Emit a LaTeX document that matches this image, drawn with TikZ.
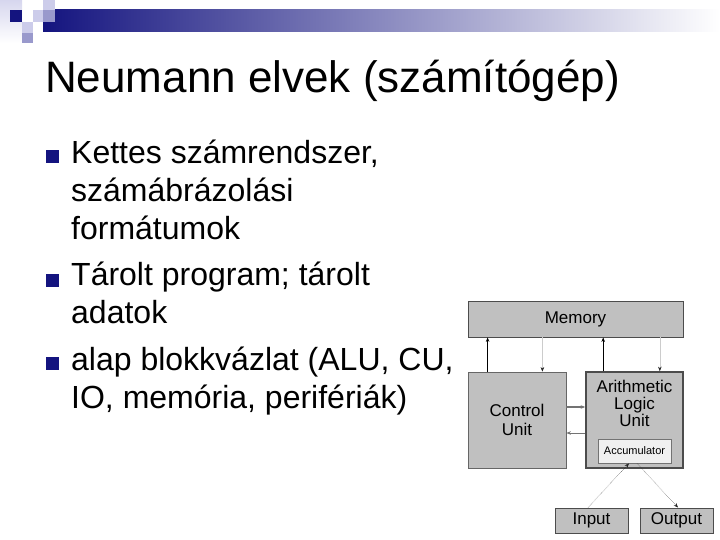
\documentclass[tikz,border=0pt]{standalone}
\usepackage{fontspec}
\setmainfont{Liberation Sans}
\usepackage{xcolor}
\usetikzlibrary{positioning, arrows.meta, calc}

\definecolor{navy}{HTML}{14147F}
\definecolor{lilac}{HTML}{CCCCEA}
\definecolor{midlilac}{HTML}{9999CC}
\definecolor{boxgray}{HTML}{C0C0C0}

\begin{document}
\begin{tikzpicture}[
    x=1pt, y=-1pt,
    >={Stealth[length=4.5pt,width=3.5pt]},
    item/.style={anchor=base west, align=left, inner sep=0pt,
                 font=\fontsize{32}{38}\selectfont},
    bul/.style={fill=navy, minimum size=13pt, inner sep=0pt},
    ubox/.style={draw=black!70, fill=boxgray, line width=0.8pt, inner sep=0pt,
                 align=center, font=\fontsize{17}{19}\selectfont},
    faint/.style={black!20, -{Stealth[length=4.5pt,width=3.5pt,color=black!85]}},
]
  \useasboundingbox (0,0) rectangle (720,540);
  % header ornament
  \shade[top color=lilac!80, bottom color=white] (0,0) rectangle (22,43);
  \shade[left color=navy, middle color=black!30!lilac, right color=white] (43,10) rectangle (720,32);
  \fill[navy] (10,10) rectangle (22,22);
  \fill[lilac] (33,10) rectangle (43,22);
  \fill[lilac] (43,0) rectangle (55,10);
  \fill[midlilac] (43,10) rectangle (55,22);
  \fill[lilac] (22,22) rectangle (33,33);
  \fill[midlilac] (22,33) rectangle (33,43);
  % title
  \node[anchor=base west, inner sep=0pt, font=\fontsize{44}{48}\selectfont] (title) at (45,93)
       {Neumann elvek (számítógép)};
  % bullet list (base = last line)
  \node[bul] (s1) at (52,156.5) {};
  \node[item] (b1) at (71,240) {Kettes számrendszer,\\számábrázolási\\formátumok};
  \node[bul] (s2) at (52,280.5) {};
  \node[item] (b2) at (71,323) {Tárolt program; tárolt\\adatok};
  \node[bul] (s3) at (52,363.5) {};
  \node[item] (b3) at (71,408) {alap blokkvázlat (ALU, CU,\\IO, memória, perifériák)};
  % block diagram
  \node[ubox, minimum width=215pt, minimum height=36pt] (mem) at (575.5,319) {Memory};
  \node[ubox, minimum width=98pt, minimum height=96pt, draw=black!60] (cu) at (517,420)
       {Control\\Unit};
  \node[ubox, minimum width=97pt, minimum height=96pt, draw=black!70, line width=1.6pt] (alu)
       at (634.5,420) {};
  \node[align=center, inner sep=0pt, anchor=north, font=\fontsize{17}{17}\selectfont] (alut)
       at (634.5,380) {Arithmetic\\Logic\\Unit};
  \node[ubox, fill=black!6, draw=black!55, minimum width=73pt, minimum height=24pt,
       font=\fontsize{11}{12}\selectfont] (acc) at (634.5,451) {Accumulator};
  \node[ubox, minimum width=73pt, minimum height=25pt, line width=1pt] (inp) at (591.5,520.5) {Input};
  \node[ubox, minimum width=73pt, minimum height=25pt, line width=1pt] (out) at (676.5,520.5) {Output};
  % memory links
  \draw[->, thick] ([xshift=20pt]cu.north west) -- ([xshift=20pt]cu.north west |- mem.south);
  \draw[faint] ([xshift=-24pt]cu.north east |- mem.south) -- ([xshift=-24pt]cu.north east);
  \draw[->, thick] ([xshift=18pt]alu.north west) -- ([xshift=18pt]alu.north west |- mem.south);
  \draw[faint] ([xshift=-24pt]alu.north east |- mem.south) -- ([xshift=-24pt]alu.north east);
  % control <-> alu
  \draw[->, black!55, line width=1.6pt] ([yshift=13pt]cu.east) -- ([yshift=13pt]cu.east -| alu.west);
  \draw[->, black!55, line width=0.8pt] ([yshift=-13pt]alu.west) -- ([yshift=-13pt]alu.west -| cu.east);
  % peripherals
  \draw[->, black!85, densely dotted] ([xshift=-3.5pt]inp.north) -- ([xshift=-5.5pt]acc.south);
  \draw[->, black!85, densely dotted] ([xshift=2.5pt]acc.south) -- ([xshift=1.5pt]out.north);
\end{tikzpicture}
\end{document}
